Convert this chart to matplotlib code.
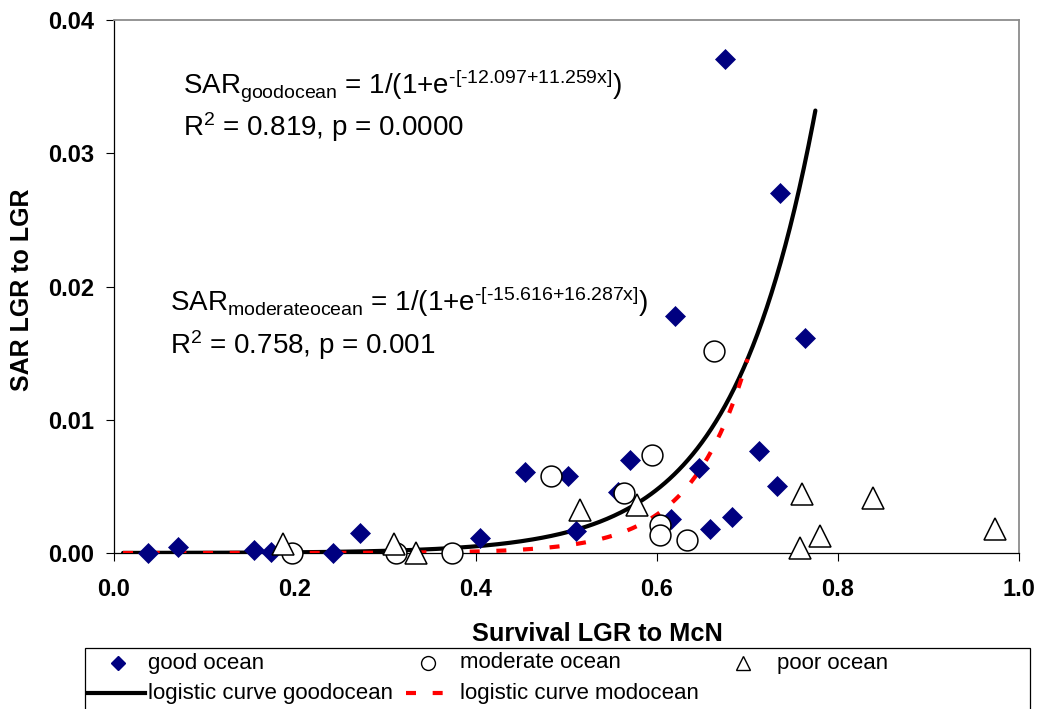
import matplotlib
matplotlib.use("Agg")
import matplotlib.pyplot as plt
import numpy as np
from matplotlib.lines import Line2D
from matplotlib.patches import Rectangle

plt.rcParams['font.family'] = ['Liberation Sans', 'DejaVu Sans']
plt.rcParams['mathtext.fontset'] = 'custom'
plt.rcParams['mathtext.rm'] = 'Liberation Sans'
plt.rcParams['mathtext.it'] = 'Liberation Sans:italic'
plt.rcParams['mathtext.bf'] = 'Liberation Sans:bold'

# ---- data ----
good_x = [0.038, 0.071, 0.155, 0.174, 0.242, 0.272, 0.404, 0.454, 0.502, 0.510, 0.557,
          0.570, 0.616, 0.620, 0.646, 0.659, 0.675, 0.683, 0.713, 0.733, 0.736, 0.764]
good_y = [0.0000, 0.00047, 0.00022, 0.00008, 0.0000, 0.0015, 0.00115, 0.0061, 0.0058, 0.00165, 0.0046,
          0.0070, 0.00253, 0.0178, 0.0064, 0.0018, 0.03705, 0.00268, 0.00765, 0.00503, 0.02698, 0.0161]
mod_x = [0.197, 0.312, 0.373, 0.4825, 0.563, 0.594, 0.603, 0.603, 0.633, 0.663]
mod_y = [0.0, 0.0, 0.0, 0.00578, 0.00448, 0.00735, 0.0021, 0.00135, 0.00098, 0.01517]
poor_x = [0.187, 0.309, 0.334, 0.515, 0.578, 0.758, 0.760, 0.780, 0.839, 0.973]
poor_y = [0.0007, 0.00064, 0.0, 0.0032, 0.0036, 0.00037, 0.00442, 0.0013, 0.0041, 0.0018]

good_coef = (-12.097, 11.259)
mod_coef = (-15.616, 16.287)
good_range = (0.01, 0.775)
mod_range = (0.01, 0.70)

x_ticks = [0.0, 0.2, 0.4, 0.6, 0.8, 1.0]
y_ticks = [0.00, 0.01, 0.02, 0.03, 0.04]

NAVY = '#000080'
W, H = 1041, 709
fig = plt.figure(figsize=(W / 100, H / 100), dpi=100)
ax = fig.add_axes([114 / W, 1 - 553 / H, 905 / W, 533 / H])

def logistic(x, a, b):
    return 1.0 / (1.0 + np.exp(-(a + b * x)))

xg = np.linspace(*good_range, 300)
xm = np.linspace(*mod_range, 300)
ax.plot(xg, logistic(xg, *good_coef), color='black', lw=3.0, zorder=2, solid_capstyle='round')
ax.plot(xm, logistic(xm, *mod_coef), color='red', lw=3.0, zorder=3,
        dashes=(2.4, 4.0), dash_capstyle='butt')

ax.plot(good_x, good_y, linestyle='none', marker='D', ms=10.5, mfc=NAVY, mec=NAVY,
        mew=0.5, zorder=4, clip_on=False)
ax.plot(mod_x, mod_y, linestyle='none', marker='o', ms=15, mfc='white', mec='black',
        mew=1.1, zorder=5, clip_on=False)
ax.plot(poor_x, poor_y, linestyle='none', marker='^', ms=15.5, mfc='white', mec='black',
        mew=1.1, zorder=6, clip_on=False)

ax.set_xlim(0, 1.0)
ax.set_ylim(0, 0.04)
ax.set_xticks(x_ticks)
ax.set_yticks(y_ticks)
ax.set_xticklabels([f'{v:.1f}' for v in x_ticks])
ax.set_yticklabels([f'{v:.2f}' for v in y_ticks])
ax.tick_params(direction='out', length=6, width=0.8, color='black', labelsize=17, pad=8)
for lab in ax.get_xticklabels() + ax.get_yticklabels():
    lab.set_fontweight('bold')
ax.tick_params(axis='x', pad=12)
for s in ['left', 'bottom']:
    ax.spines[s].set_color('black')
    ax.spines[s].set_linewidth(0.9)
for s in ['top', 'right']:
    ax.spines[s].set_color('#8c8c8c')
    ax.spines[s].set_linewidth(1.3)

fig.text(22 / W, 1 - 290 / H, 'SAR LGR to LGR', rotation=90, ha='center', va='center',
         fontsize=18, fontweight='bold')
fig.text(597 / W, 1 - 634 / H, 'Survival LGR to McN', ha='center', va='center',
         fontsize=18.3, fontweight='bold')

ann_fs = 20
fig.text(183 / W, 1 - 93 / H,
         r'SAR$_{\text{goodocean}}$ = 1/(1+e$^{\text{-[-12.097+11.259x]}}$)',
         fontsize=ann_fs, ha='left', va='baseline')
fig.text(183 / W, 1 - 136 / H, r'R$^{\text{2}}$ = 0.819, p = 0.0000',
         fontsize=ann_fs, ha='left', va='baseline')
fig.text(170 / W, 1 - 311 / H,
         r'SAR$_{\text{moderateocean}}$ = 1/(1+e$^{\text{-[-15.616+16.287x]}}$)',
         fontsize=ann_fs, ha='left', va='baseline')
fig.text(170 / W, 1 - 354 / H, r'R$^{\text{2}}$ = 0.758, p = 0.001',
         fontsize=ann_fs, ha='left', va='baseline')

# ---- legend (drawn in figure pixels) ----
fig.patches.append(Rectangle((85 / W, -0.05), (1030 - 85) / W, (1 - 648 / H) + 0.05,
                             transform=fig.transFigure, fill=False, edgecolor='black',
                             lw=0.9, clip_on=False))
def fx(px):
    return px / W
def fy(py):
    return 1 - py / H
r1, r2 = 663, 693
fig.add_artist(Line2D([fx(118)], [fy(r1)], marker='D', ms=7, mfc=NAVY, mec=NAVY,
                      linestyle='none', transform=fig.transFigure))
fig.add_artist(Line2D([fx(428)], [fy(r1)], marker='o', ms=10, mfc='white', mec='black',
                      mew=1.0, linestyle='none', transform=fig.transFigure))
fig.add_artist(Line2D([fx(743)], [fy(r1)], marker='^', ms=10, mfc='white', mec='black',
                      mew=1.0, linestyle='none', transform=fig.transFigure))
fig.add_artist(Line2D([fx(88), fx(145)], [fy(r2), fy(r2)], color='black', lw=3.0,
                      transform=fig.transFigure))
fig.add_artist(Line2D([fx(406), fx(443)], [fy(r2), fy(r2)], color='red', lw=3.0,
                      dashes=(2.4, 4.0), dash_capstyle='butt', transform=fig.transFigure))
leg_fs = 16
fig.text(fx(148), fy(r1), 'good ocean', fontsize=leg_fs, va='center', ha='left')
fig.text(fx(460), fy(r1), 'moderate ocean', fontsize=leg_fs, va='center', ha='left')
fig.text(fx(777), fy(r1), 'poor ocean', fontsize=leg_fs, va='center', ha='left')
fig.text(fx(148), fy(r2), 'logistic curve goodocean', fontsize=leg_fs, va='center', ha='left')
fig.text(fx(460), fy(r2), 'logistic curve modocean', fontsize=leg_fs, va='center', ha='left')

fig.savefig('out.png', dpi=100)
